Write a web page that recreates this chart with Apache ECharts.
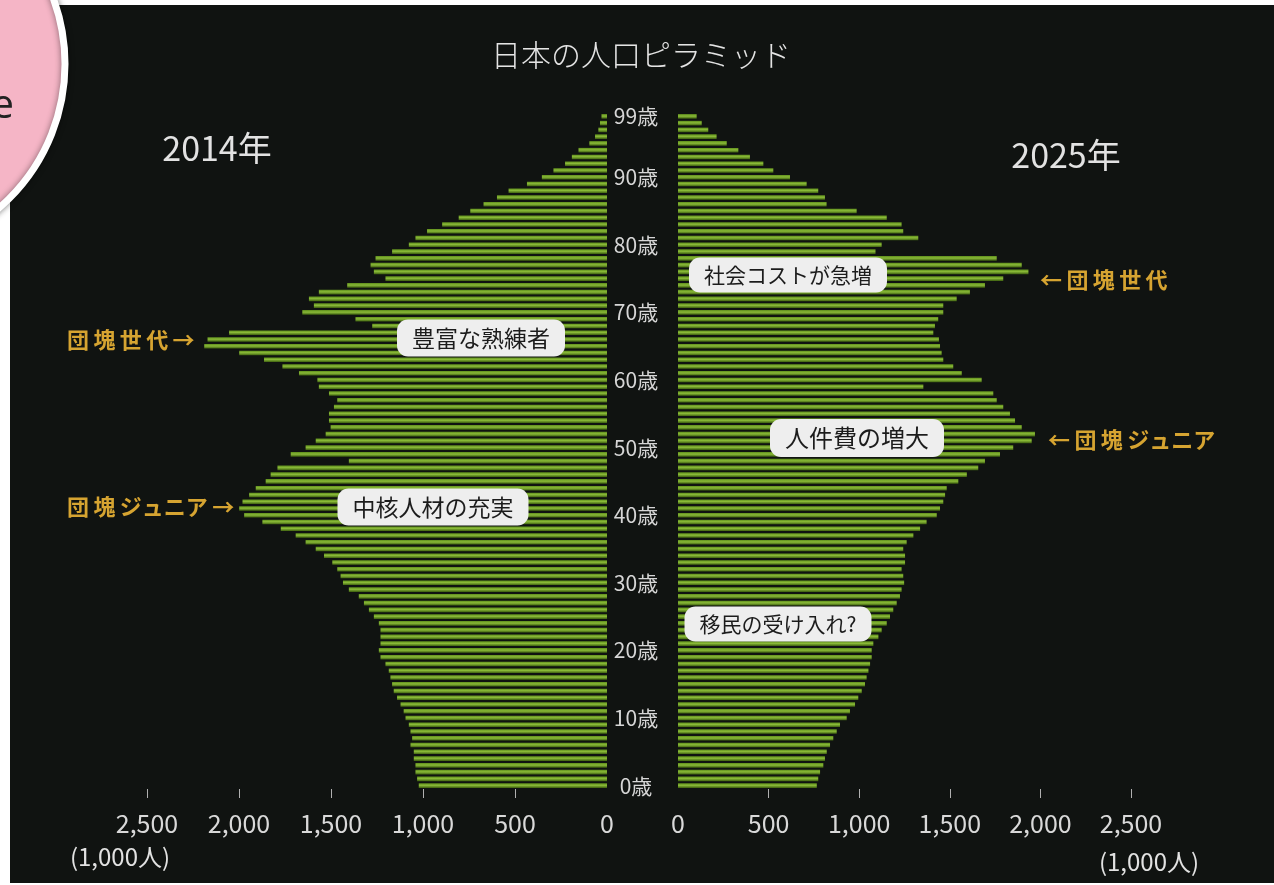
<!DOCTYPE html>
<html><head><meta charset="utf-8">
<script src="https://cdn.jsdelivr.net/npm/echarts@6/dist/echarts.min.js"></script>
<style>html,body{margin:0;padding:0;background:#fff;}#c{width:1274px;height:885px;}</style>
</head><body><div id="c"></div>
<script>
// ---- data (thousand persons) ----
const ages = Array.from({length: 100}, (_, i) => i);
const pop2014 = [1023,1032,1041,1041,1050,1050,1068,1059,1068,1077,
 1095,1105,1122,1141,1159,1168,1177,1186,1204,1231,
 1240,1231,1231,1231,1240,1267,1294,1321,1349,1403,
 1435,1448,1466,1493,1538,1583,1638,1692,1773,1873,
 1972,1999,1981,1945,1909,1855,1828,1791,1403,1719,
 1638,1583,1529,1502,1511,1511,1484,1466,1511,1566,
 1574,1674,1764,1864,1999,2189,2171,2054,1276,1367,
 1656,1593,1620,1566,1412,1204,1267,1285,1258,1168,
 1077,1041,978,896,806,743,671,598,535,435,
 354,291,228,191,155,96,65,47,38,30];
const pop2025 = [766,774,784,802,811,821,839,857,876,894,
 931,949,977,995,1014,1032,1041,1051,1060,1069,
 1069,1078,1106,1124,1152,1170,1188,1207,1225,1234,
 1248,1243,1234,1253,1253,1243,1262,1299,1336,1372,
 1428,1446,1464,1474,1483,1547,1594,1657,1694,1777,
 1850,1952,1970,1897,1860,1832,1795,1759,1740,1354,
 1676,1566,1519,1464,1455,1446,1440,1409,1418,1436,
 1464,1464,1538,1611,1694,1795,1934,1897,1759,1090,
 1124,1326,1243,1234,1152,986,820,811,774,710,
 618,526,471,397,333,269,213,167,131,103];
const ageLabelAges = [0,10,20,30,40,50,60,70,80,90,99];
const xTickValues = [500,1000,1500,2000,2500];
const xMax = 2500;
const xStep = 500;

const NUM = "'Noto Sans CJK JP',sans-serif";
const CJK = "'Noto Sans CJK JP',sans-serif";
const fmt = v => String(v).replace(/\B(?=(\d{3})+(?!\d))/g, ',');
const TS = '\u2009';

const chart = echarts.init(document.getElementById('c'), null, {renderer: 'canvas'});
const barColor = new echarts.graphic.LinearGradient(0, 0, 0, 1, [
  {offset: 0, color: '#5f8e1c'},
  {offset: 0.45, color: '#8aba38'},
  {offset: 1, color: '#3d5f0f'}
]);
const xAxisCommon = {
  type: 'value', min: 0, max: xMax, interval: xStep,
  splitLine: {show: false},
  axisLine: {show: false},
  axisTick: {show: true, customValues: xTickValues, length: 9, lineStyle: {color: '#b0b0b0', width: 1}},
  axisLabel: {color: '#d9d9d9', fontSize: 25, fontFamily: NUM, margin: 22, formatter: fmt}
};
function annot(text, x, y, size) {
  return {type: 'text', x, y, z: 100,
    style: {text, fontSize: size, fontFamily: CJK, fill: '#1c1c1c', align: 'center', verticalAlign: 'middle',
      backgroundColor: '#eeeeee', borderRadius: 11, padding: [7, 15]}};
}
function gold(text, x, y, align) {
  return {type: 'text', x, y, z: 100,
    style: {text, fontSize: 22, fontWeight: 'bold', fontFamily: CJK, fill: '#d6a431', align, verticalAlign: 'middle'}};
}
function plain(text, x, y, size, align) {
  return {type: 'text', x, y, z: 100,
    style: {text, fontSize: size, fontFamily: NUM, fill: '#e2e2e2', align: align || 'center', verticalAlign: 'middle'}};
}

const option = {
  backgroundColor: '#ffffff',
  animation: false,
  grid: [
    {left: 147, width: 460, top: 113, height: 676, show: false},
    {left: 678, width: 453, top: 113, height: 676, show: false}
  ],
  xAxis: [
    Object.assign({gridIndex: 0, inverse: true}, xAxisCommon),
    Object.assign({gridIndex: 1}, xAxisCommon)
  ],
  yAxis: [
    {gridIndex: 0, type: 'category', data: ages, show: false},
    {gridIndex: 1, type: 'category', data: ages,
      axisLine: {show: false}, axisTick: {show: false},
      axisLabel: {
        interval: (idx) => ageLabelAges.includes(idx),
        formatter: v => v + '歳',
        align: 'center', margin: 42,
        color: '#d6d6d6', fontSize: 21, fontFamily: NUM
      }}
  ],
  series: [
    {type: 'bar', name: '2014年', xAxisIndex: 0, yAxisIndex: 0, data: pop2014, barWidth: 4.6,
      itemStyle: {color: barColor}, silent: true},
    {type: 'bar', name: '2025年', xAxisIndex: 1, yAxisIndex: 1, data: pop2025, barWidth: 4.6,
      itemStyle: {color: barColor}, silent: true}
  ],
  graphic: [
    {type: 'rect', z: -10, shape: {x: 10, y: 5, width: 1264, height: 878}, style: {fill: '#101311'}},
    {type: 'circle', z: 50, shape: {cx: -125, cy: 64, r: 190},
      style: {fill: '#f5b5c6', stroke: '#ffffff', lineWidth: 7, shadowBlur: 6, shadowColor: 'rgba(0,0,0,0.45)'}},
    {type: 'text', z: 60, x: 14, y: 107, style: {text: 'e', fontSize: 40, fontFamily: "'Open Sans',sans-serif", fill: '#222', align: 'right', verticalAlign: 'middle'}},
    {type: 'text', z: 100, x: 641, y: 55, style: {text: '日本の人口ピラミッド', fontSize: 30, fontWeight: 300, fontFamily: CJK, fill: '#e4e4e4', align: 'center', verticalAlign: 'middle'}},
    plain('2014年', 217, 148, 34),
    plain('2025年', 1066, 155, 34),
    gold('団' + TS + '塊' + TS + '世' + TS + '代' + TS + '→', 67, 340, 'left'),
    gold('団' + TS + '塊' + TS + 'ジュニア' + TS + '→', 67, 507, 'left'),
    gold('←' + TS + '団' + TS + '塊' + TS + '世' + TS + '代', 1040, 280, 'left'),
    gold('←' + TS + '団' + TS + '塊' + TS + 'ジュニア', 1048, 440, 'left'),
    annot('豊富な熟練者', 481, 338, 23),
    annot('中核人材の充実', 433, 507, 23),
    annot('社会コストが急増', 788, 275, 21),
    annot('人件費の増大', 857, 438, 24),
    annot('移民の受け入れ?', 778, 624, 21),
    plain('(1,000人)', 120, 857, 24),
    plain('(1,000人)', 1149, 862, 24)
  ]
};
chart.setOption(option);
</script></body></html>
